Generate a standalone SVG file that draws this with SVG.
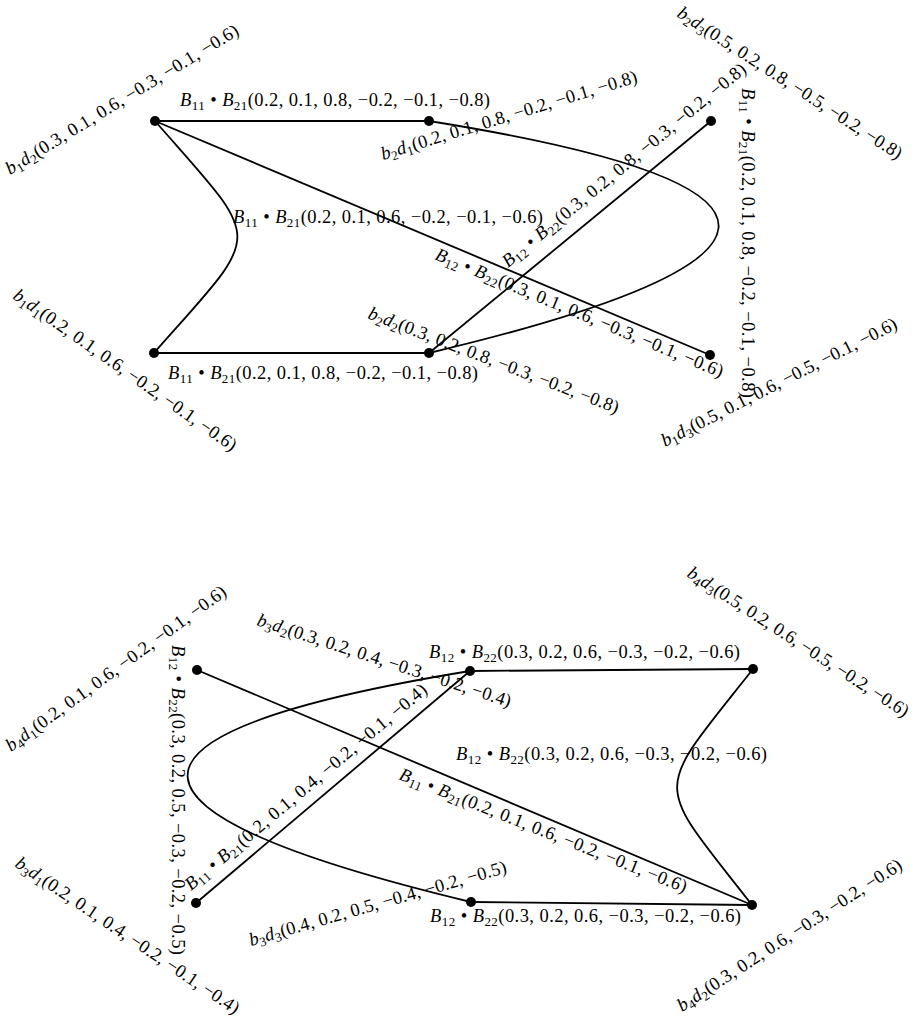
<svg xmlns="http://www.w3.org/2000/svg" width="917" height="1023" viewBox="0 0 917 1023">
<style>
.e{fill:none;stroke:#000;stroke-width:1.8}
.n{fill:#000}
.t{font-family:"Liberation Serif","DejaVu Serif",serif;font-size:18.5px;fill:#000}
.i{font-style:italic}
.s{font-size:13px}
</style>
<rect width="917" height="1023" fill="#fff"/>
<g id="connectors">
  <g id="e-b1d2-b2d1">
    <path class="e" d="M155,121 L429,121"/>
    <text class="t" transform="translate(180,106)" textLength="310" lengthAdjust="spacing"><tspan class="i">B</tspan><tspan class="s" dy="3.5">11</tspan><tspan dy="-3.5"> • </tspan><tspan class="i">B</tspan><tspan class="s" dy="3.5">21</tspan><tspan dy="-3.5">(0.2, 0.1, 0.8, −0.2, −0.1, −0.8)</tspan></text>
  </g>
  <g id="e-b1d2-b1d1">
    <path class="e" d="M155,121 C265,247 265,227 154,353"/>
    <text class="t" transform="translate(233,223)" textLength="310" lengthAdjust="spacing"><tspan class="i">B</tspan><tspan class="s" dy="3.5">11</tspan><tspan dy="-3.5"> • </tspan><tspan class="i">B</tspan><tspan class="s" dy="3.5">21</tspan><tspan dy="-3.5">(0.2, 0.1, 0.6, −0.2, −0.1, −0.6)</tspan></text>
  </g>
  <g id="e-b1d1-b2d2">
    <path class="e" d="M154,353 L429,353"/>
    <text class="t" transform="translate(168,379)" textLength="310" lengthAdjust="spacing"><tspan class="i">B</tspan><tspan class="s" dy="3.5">11</tspan><tspan dy="-3.5"> • </tspan><tspan class="i">B</tspan><tspan class="s" dy="3.5">21</tspan><tspan dy="-3.5">(0.2, 0.1, 0.8, −0.2, −0.1, −0.8)</tspan></text>
  </g>
  <g id="e-b1d2-b1d3">
    <path class="e" d="M155,121 L710,355"/>
    <text class="t" transform="translate(434,259) rotate(22.5)" textLength="310" lengthAdjust="spacing"><tspan class="i">B</tspan><tspan class="s" dy="3.5">12</tspan><tspan dy="-3.5"> • </tspan><tspan class="i">B</tspan><tspan class="s" dy="3.5">22</tspan><tspan dy="-3.5">(0.3, 0.1, 0.6, −0.3, −0.1, −0.6)</tspan></text>
  </g>
  <g id="e-b2d2-b2d3">
    <path class="e" d="M429,353 L711,121"/>
    <text class="t" transform="translate(508,268) rotate(-39.4)" textLength="310" lengthAdjust="spacing"><tspan class="i">B</tspan><tspan class="s" dy="3.5">12</tspan><tspan dy="-3.5"> • </tspan><tspan class="i">B</tspan><tspan class="s" dy="3.5">22</tspan><tspan dy="-3.5">(0.3, 0.2, 0.8, −0.3, −0.2, −0.8)</tspan></text>
  </g>
  <g id="e-b2d1-b2d2">
    <path class="e" d="M429,121 C830,185 800,265 429,353"/>
    <text class="t" transform="translate(742,88) rotate(90)" textLength="310" lengthAdjust="spacing"><tspan class="i">B</tspan><tspan class="s" dy="3.5">11</tspan><tspan dy="-3.5"> • </tspan><tspan class="i">B</tspan><tspan class="s" dy="3.5">21</tspan><tspan dy="-3.5">(0.2, 0.1, 0.8, −0.2, −0.1, −0.8)</tspan></text>
  </g>
  <g id="e-b3d2-b4d3">
    <path class="e" d="M470,671 L753,669"/>
    <text class="t" transform="translate(429,658)" textLength="311" lengthAdjust="spacing"><tspan class="i">B</tspan><tspan class="s" dy="3.5">12</tspan><tspan dy="-3.5"> • </tspan><tspan class="i">B</tspan><tspan class="s" dy="3.5">22</tspan><tspan dy="-3.5">(0.3, 0.2, 0.6, −0.3, −0.2, −0.6)</tspan></text>
  </g>
  <g id="e-b4d3-b4d2">
    <path class="e" d="M753,669 C652,797 652,777 752,905"/>
    <text class="t" transform="translate(456,760)" textLength="311" lengthAdjust="spacing"><tspan class="i">B</tspan><tspan class="s" dy="3.5">12</tspan><tspan dy="-3.5"> • </tspan><tspan class="i">B</tspan><tspan class="s" dy="3.5">22</tspan><tspan dy="-3.5">(0.3, 0.2, 0.6, −0.3, −0.2, −0.6)</tspan></text>
  </g>
  <g id="e-b4d1-b4d2">
    <path class="e" d="M197,670 L752,905"/>
    <text class="t" transform="translate(398,779) rotate(21.7)" textLength="308" lengthAdjust="spacing"><tspan class="i">B</tspan><tspan class="s" dy="3.5">11</tspan><tspan dy="-3.5"> • </tspan><tspan class="i">B</tspan><tspan class="s" dy="3.5">21</tspan><tspan dy="-3.5">(0.2, 0.1, 0.6, −0.2, −0.1, −0.6)</tspan></text>
  </g>
  <g id="e-b3d1-b3d2">
    <path class="e" d="M196,903 L470,671"/>
    <text class="t" transform="translate(191,891) rotate(-40)" textLength="310" lengthAdjust="spacing"><tspan class="i">B</tspan><tspan class="s" dy="3.5">11</tspan><tspan dy="-3.5"> • </tspan><tspan class="i">B</tspan><tspan class="s" dy="3.5">21</tspan><tspan dy="-3.5">(0.2, 0.1, 0.4, −0.2, −0.1, −0.4)</tspan></text>
  </g>
  <g id="e-b3d2-b3d3">
    <path class="e" d="M470,671 C79,735 108,815 471,902"/>
    <text class="t" transform="translate(172,645) rotate(90)" textLength="310" lengthAdjust="spacing"><tspan class="i">B</tspan><tspan class="s" dy="3.5">12</tspan><tspan dy="-3.5"> • </tspan><tspan class="i">B</tspan><tspan class="s" dy="3.5">22</tspan><tspan dy="-3.5">(0.3, 0.2, 0.5, −0.3, −0.2, −0.5)</tspan></text>
  </g>
  <g id="e-b3d3-b4d2">
    <path class="e" d="M471,902 L752,905"/>
    <text class="t" transform="translate(430,922)" textLength="311" lengthAdjust="spacing"><tspan class="i">B</tspan><tspan class="s" dy="3.5">12</tspan><tspan dy="-3.5"> • </tspan><tspan class="i">B</tspan><tspan class="s" dy="3.5">22</tspan><tspan dy="-3.5">(0.3, 0.2, 0.6, −0.3, −0.2, −0.6)</tspan></text>
  </g>
</g>
<g id="b1d2">
  <circle class="n" cx="155" cy="121" r="5"/>
  <text class="t" transform="translate(10,175) rotate(-31.5)" textLength="270" lengthAdjust="spacing"><tspan class="i">b</tspan><tspan class="s" dy="3.5">1</tspan><tspan class="i" dy="-3.5">d</tspan><tspan class="s" dy="3.5">2</tspan><tspan dy="-3.5">(0.3, 0.1, 0.6, −0.3, −0.1, −0.6)</tspan></text>
</g>
<g id="b2d1">
  <circle class="n" cx="429" cy="121" r="5"/>
  <text class="t" transform="translate(383,160) rotate(-17)" textLength="267" lengthAdjust="spacing"><tspan class="i">b</tspan><tspan class="s" dy="3.5">2</tspan><tspan class="i" dy="-3.5">d</tspan><tspan class="s" dy="3.5">1</tspan><tspan dy="-3.5">(0.2, 0.1, 0.8, −0.2, −0.1, −0.8)</tspan></text>
</g>
<g id="b2d3">
  <circle class="n" cx="711" cy="121" r="5"/>
  <text class="t" transform="translate(676,16) rotate(33)" textLength="264" lengthAdjust="spacing"><tspan class="i">b</tspan><tspan class="s" dy="3.5">2</tspan><tspan class="i" dy="-3.5">d</tspan><tspan class="s" dy="3.5">3</tspan><tspan dy="-3.5">(0.5, 0.2, 0.8, −0.5, −0.2, −0.8)</tspan></text>
</g>
<g id="b1d1">
  <circle class="n" cx="154" cy="353" r="5"/>
  <text class="t" transform="translate(12,298) rotate(35)" textLength="268" lengthAdjust="spacing"><tspan class="i">b</tspan><tspan class="s" dy="3.5">1</tspan><tspan class="i" dy="-3.5">d</tspan><tspan class="s" dy="3.5">1</tspan><tspan dy="-3.5">(0.2, 0.1, 0.6, −0.2, −0.1, −0.6)</tspan></text>
</g>
<g id="b2d2">
  <circle class="n" cx="429" cy="353" r="5"/>
  <text class="t" transform="translate(367,318) rotate(21)" textLength="267" lengthAdjust="spacing"><tspan class="i">b</tspan><tspan class="s" dy="3.5">2</tspan><tspan class="i" dy="-3.5">d</tspan><tspan class="s" dy="3.5">2</tspan><tspan dy="-3.5">(0.3, 0.2, 0.8, −0.3, −0.2, −0.8)</tspan></text>
</g>
<g id="b1d3">
  <circle class="n" cx="710" cy="355" r="5"/>
  <text class="t" transform="translate(665,447) rotate(-27)" textLength="262" lengthAdjust="spacing"><tspan class="i">b</tspan><tspan class="s" dy="3.5">1</tspan><tspan class="i" dy="-3.5">d</tspan><tspan class="s" dy="3.5">3</tspan><tspan dy="-3.5">(0.5, 0.1, 0.6, −0.5, −0.1, −0.6)</tspan></text>
</g>
<g id="b4d1">
  <circle class="n" cx="197" cy="670" r="5"/>
  <text class="t" transform="translate(11,752) rotate(-36)" textLength="268" lengthAdjust="spacing"><tspan class="i">b</tspan><tspan class="s" dy="3.5">4</tspan><tspan class="i" dy="-3.5">d</tspan><tspan class="s" dy="3.5">1</tspan><tspan dy="-3.5">(0.2, 0.1, 0.6, −0.2, −0.1, −0.6)</tspan></text>
</g>
<g id="b3d2">
  <circle class="n" cx="470" cy="671" r="5"/>
  <text class="t" transform="translate(256,625) rotate(18)" textLength="266" lengthAdjust="spacing"><tspan class="i">b</tspan><tspan class="s" dy="3.5">3</tspan><tspan class="i" dy="-3.5">d</tspan><tspan class="s" dy="3.5">2</tspan><tspan dy="-3.5">(0.3, 0.2, 0.4, −0.3, −0.2, −0.4)</tspan></text>
</g>
<g id="b4d3">
  <circle class="n" cx="753" cy="669" r="5"/>
  <text class="t" transform="translate(686,576) rotate(33)" textLength="260" lengthAdjust="spacing"><tspan class="i">b</tspan><tspan class="s" dy="3.5">4</tspan><tspan class="i" dy="-3.5">d</tspan><tspan class="s" dy="3.5">3</tspan><tspan dy="-3.5">(0.5, 0.2, 0.6, −0.5, −0.2, −0.6)</tspan></text>
</g>
<g id="b3d1">
  <circle class="n" cx="196" cy="903" r="5"/>
  <text class="t" transform="translate(14,866) rotate(34)" textLength="266" lengthAdjust="spacing"><tspan class="i">b</tspan><tspan class="s" dy="3.5">3</tspan><tspan class="i" dy="-3.5">d</tspan><tspan class="s" dy="3.5">1</tspan><tspan dy="-3.5">(0.2, 0.1, 0.4, −0.2, −0.1, −0.4)</tspan></text>
</g>
<g id="b3d3">
  <circle class="n" cx="471" cy="902" r="5"/>
  <text class="t" transform="translate(251,946) rotate(-16)" textLength="267" lengthAdjust="spacing"><tspan class="i">b</tspan><tspan class="s" dy="3.5">3</tspan><tspan class="i" dy="-3.5">d</tspan><tspan class="s" dy="3.5">3</tspan><tspan dy="-3.5">(0.4, 0.2, 0.5, −0.4, −0.2, −0.5)</tspan></text>
</g>
<g id="b4d2">
  <circle class="n" cx="752" cy="905" r="5"/>
  <text class="t" transform="translate(682,1012) rotate(-33)" textLength="264" lengthAdjust="spacing"><tspan class="i">b</tspan><tspan class="s" dy="3.5">4</tspan><tspan class="i" dy="-3.5">d</tspan><tspan class="s" dy="3.5">2</tspan><tspan dy="-3.5">(0.3, 0.2, 0.6, −0.3, −0.2, −0.6)</tspan></text>
</g>
</svg>
